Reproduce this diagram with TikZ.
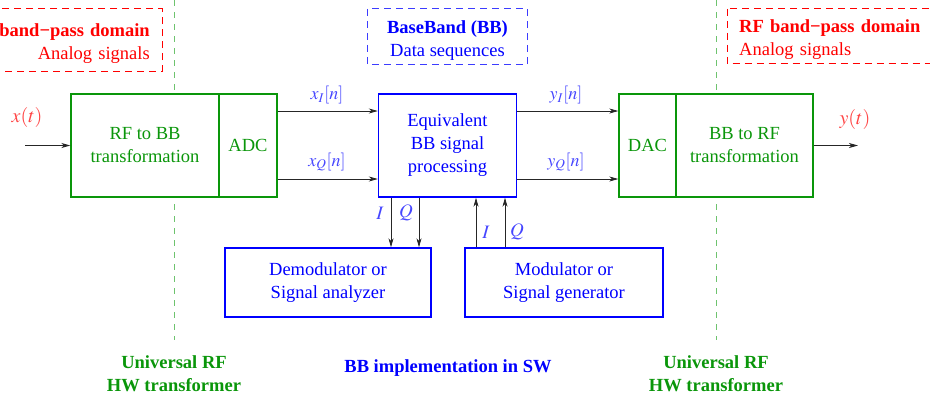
\documentclass[tikz,border=0pt]{standalone}
\usepackage{mathptmx}
\usepackage[no-math]{fontspec}
\setmainfont{Liberation Serif}
\usetikzlibrary{arrows.meta}
\definecolor{gr}{RGB}{10,150,10}
\definecolor{lgr}{RGB}{110,195,110}
\definecolor{lred}{RGB}{255,70,70}
\definecolor{lblue}{RGB}{70,70,255}
\definecolor{dred}{RGB}{255,0,0}
\definecolor{dblue}{RGB}{60,60,255}
\tikzset{
  txt/.style={font=\fontsize{18.5}{23}\selectfont, align=center},
  gbox/.style={txt, draw=gr, text=gr, line width=1.4pt, fill=white, minimum height=103pt, inner sep=0pt},
  bbox/.style={txt, draw=blue, text=blue, line width=1.4pt, fill=white, inner sep=0pt},
  dbox/.style={txt, inner sep=0pt},
  dline/.style={dash pattern=on 7pt off 5pt, line width=1pt},
  arr/.style={-{Stealth[length=9pt,width=5pt,inset=2.5pt]}, line width=0.8pt, black!85},
  vdash/.style={lgr, line width=1pt, dash pattern=on 6pt off 6pt},
  mlab/.style={text=lblue, font=\fontsize{18}{20}\selectfont},
  btxt/.style={font=\fontsize{18.5}{23}\selectfont\bfseries, align=center}
}
\begin{document}
\begin{tikzpicture}[x=1pt,y=-1pt]
\useasboundingbox (0,0) rectangle (930,400);
\clip (0,0) rectangle (930,400);
% vertical dashed lines
\coordinate (v1t) at (174,0); \coordinate (v1b) at (174,340);
\coordinate (v2t) at (716,0); \coordinate (v2b) at (716,340);
\draw[vdash] (v1t) -- (v1b);
\draw[vdash] (v2t) -- (v2b);
% top dashed boxes (text sits a little low in each box)
\node[dbox, text=red, align=right, anchor=east, minimum height=62pt, text width=190pt, inner xsep=12pt] (lbox) at (162,44)
  {\textbf{RF band−pass domain}\\Analog signals};
\draw[dline, dred] ([yshift=4pt]lbox.north west) rectangle ([yshift=4pt]lbox.south east);
\node[dbox, text=blue, minimum width=160pt, minimum height=55pt] (bbbox) at (447.5,40.5)
  {\textbf{BaseBand (BB)}\\Data sequences};
\draw[dline, dblue] ([yshift=4pt]bbbox.north west) rectangle ([yshift=4pt]bbbox.south east);
\node[dbox, text=red, align=left, anchor=west, minimum height=54pt, text width=190pt, inner xsep=12pt] (rbox) at (727,40)
  {\textbf{RF band−pass domain}\\Analog signals};
\draw[dline, dred] ([yshift=4pt]rbox.north west) rectangle ([yshift=4pt]rbox.south east);
% main blocks
\node[gbox, minimum width=148pt] (rf2bb) at (145,145.5) {RF to BB\\transformation};
\node[gbox, minimum width=58pt] (adc) at (248,145.5) {ADC};
\node[bbox, minimum width=138pt, minimum height=103pt] (proc) at (447.5,145.5) {Equivalent\\BB signal\\processing};
\node[gbox, minimum width=57pt] (dac) at (647.5,145.5) {DAC};
\node[gbox, minimum width=137pt] (bb2rf) at (744.5,145.5) {BB to RF\\transformation};
\node[bbox, minimum width=206pt, minimum height=69pt] (demod) at (328,282.5) {Demodulator or\\Signal analyzer};
\node[bbox, minimum width=198pt, minimum height=69pt] (mod) at (564,282.5) {Modulator or\\Signal generator};
% input / output
\coordinate (xin) at (25,145.5);
\coordinate (yout) at (858,145.5);
\draw[arr] (xin) -- (rf2bb.west);
\draw[arr] (bb2rf.east) -- (yout);
\node[text=lred, font=\fontsize{20}{22}\selectfont] (xt) at (27,117) {$x(t)$};
\node[text=lred, font=\fontsize{20}{22}\selectfont] (yt) at (855,119) {$y(t)$};
% I/Q paths
\draw[arr] ([yshift=34.5pt]adc.east) -- ([yshift=34.5pt]proc.west);
\draw[arr] ([yshift=-33.5pt]adc.east) -- ([yshift=-33.5pt]proc.west);
\draw[arr] ([yshift=34.5pt]proc.east) -- ([yshift=34.5pt]dac.west);
\draw[arr] ([yshift=-33.5pt]proc.east) -- ([yshift=-33.5pt]dac.west);
\node[mlab] (xi) at (327,95) {$x_I[n]$};
\node[mlab] (xq) at (327,162) {$x_Q[n]$};
\node[mlab] (yi) at (566,95) {$y_I[n]$};
\node[mlab] (yq) at (566,162) {$y_Q[n]$};
\draw[arr] ([xshift=-56.5pt]proc.south) -- ([xshift=-56.5pt]proc.south |- demod.north);
\draw[arr] ([xshift=-28.5pt]proc.south) -- ([xshift=-28.5pt]proc.south |- demod.north);
\draw[arr] ([xshift=28.5pt]proc.south |- mod.north) -- ([xshift=28.5pt]proc.south);
\draw[arr] ([xshift=57.5pt]proc.south |- mod.north) -- ([xshift=57.5pt]proc.south);
\node[mlab, font=\fontsize{19}{20}\selectfont] (li1) at (380,213) {$I$};
\node[mlab, font=\fontsize{19}{20}\selectfont] (lq1) at (406,213) {$Q$};
\node[mlab, font=\fontsize{19}{20}\selectfont] (li2) at (486,232) {$I$};
\node[mlab, font=\fontsize{19}{20}\selectfont] (lq2) at (517,232) {$Q$};
% bottom labels
\node[btxt, text=gr] (u1) at (174,374) {Universal RF\\HW transformer};
\node[btxt, text=blue] (sw) at (448,368) {BB implementation in SW};
\node[btxt, text=gr] (u2) at (716,374) {Universal RF\\HW transformer};
\end{tikzpicture}
\end{document}
